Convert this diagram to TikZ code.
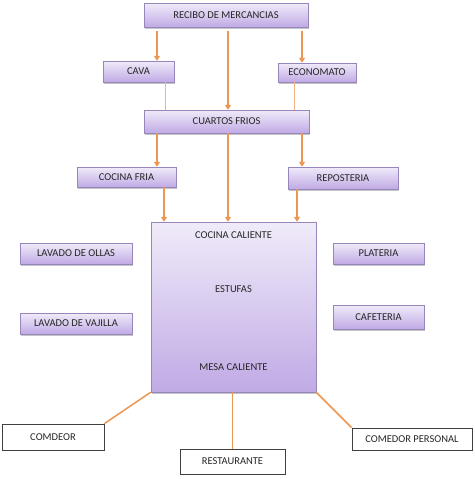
\documentclass[tikz,border=0pt]{standalone}
\usepackage{fontspec}
\setmainfont{Carlito}
\usetikzlibrary{arrows.meta,shadows,positioning}

\definecolor{naranja}{RGB}{236,150,82}
\definecolor{lila}{RGB}{192,170,229}
\definecolor{lilaclaro}{RGB}{240,235,249}
\definecolor{borde}{RGB}{150,134,186}

\tikzset{
  caja/.style={draw=borde, top color=lilaclaro, bottom color=lila,
    drop shadow={shadow xshift=1.2pt, shadow yshift=-1.8pt, fill=black!45},
    inner sep=0pt, font=\fontsize{10.5}{12}\selectfont, text=black!85},
  blanca/.style={draw=black!75, line width=0.9pt, fill=white,
    inner sep=0pt, font=\fontsize{10.5}{12}\selectfont, text=black!85},
  texto/.style={inner sep=0pt, font=\fontsize{10.5}{12}\selectfont, text=black!85},
  flecha/.style={naranja, line width=1.6pt, -{Triangle[width=6pt,length=5pt]}},
  linea/.style={naranja!70, line width=0.9pt},
  lineab/.style={naranja, line width=1.5pt}
}

\begin{document}
\begin{tikzpicture}[x=1pt, y=-1pt]

 \useasboundingbox (0,0) rectangle (474,479);

	%purple boxes
    \foreach \name/\x/\y/\w/\h/\txt in {
       recibo/226/15/164/24/RECIBO DE MERCANCIAS,
       cava/138.5/71.5/71/21/CAVA,
       economato/317/72.5/78/19/ECONOMATO,
       cuartos/226.5/121.5/165/23/CUARTOS FRIOS,
       cfria/126.5/177/99/20/COCINA FRIA,
       reposteria/343/178/110/22/REPOSTERIA,
       ollas/76/253.5/112/21/LAVADO DE OLLAS,
       vajilla/76/323.5/112/21/LAVADO DE VAJILLA,
       plateria/378.5/253.5/91/21/PLATERIA,
       cafeteria/378.5/317/91/24/CAFETERIA }{
         \node[caja, minimum width=\w pt, minimum height=\h pt] (\name) at (\x,\y) {\txt};
    }

 \node[caja, minimum width=165pt, minimum height=170pt] (cocina) at (233.5,307) {};
 \node[texto] (caliente) [below=10pt of cocina.north] {COCINA CALIENTE};
 \node[texto] (estufas) [above=14pt of cocina.center] {ESTUFAS};
 \node[texto] (mesa) [above=21pt of cocina.south] {MESA CALIENTE};

	%white boxes
    \foreach \name/\x/\y/\w/\h/\txt in {
       comdeor/53/437/102/26/COMDEOR,
       restaurante/232.5/461.5/105/25/RESTAURANTE,
       personal/412/439/120/22/COMEDOR PERSONAL }{
         \node[blanca, minimum width=\w pt, minimum height=\h pt] (\name) at (\x,\y) {\txt};
    }

	%arrows
    \foreach \a/\b/\x in { recibo/cava/157, recibo/cuartos/228, recibo/economato/302 }{
         \draw[flecha, shorten <=4pt] (\a.south -| \x,0) -- (\b.north -| \x,0);
    }
    \foreach \a/\b/\x in { cuartos/cfria/157, cuartos/cocina/228, cuartos/reposteria/302,
                           cfria/cocina/164, reposteria/cocina/297 }{
         \draw[flecha] (\a.south -| \x,0) -- (\b.north -| \x,0);
    }
    \foreach \a/\b/\x in { cava/cuartos/165, economato/cuartos/294 }{
         \draw[linea] (\a.south -| \x,0) -- (\b.north -| \x,0);
    }

	%exits
 \draw[lineab] (cocina.south west) -- (comdeor.north east);
 \draw[lineab] (cocina.south -| restaurante.north) -- (restaurante.north);
 \draw[lineab] (cocina.south east) -- (personal.north west);

\end{tikzpicture}
\end{document}
